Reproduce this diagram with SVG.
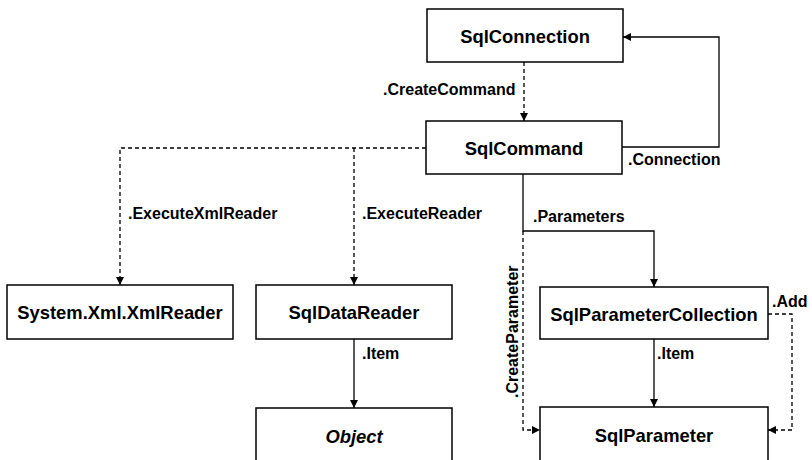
<svg xmlns="http://www.w3.org/2000/svg" width="812" height="460" viewBox="0 0 812 460">
  <style>
    .box { fill: #ffffff; stroke: #000000; stroke-width: 1.5; }
    .name { font-family: "Liberation Sans", Arial, sans-serif; font-weight: bold; font-size: 18.4px; text-anchor: middle; fill: #000000; }
    .lbl { font-family: "Liberation Sans", Arial, sans-serif; font-weight: bold; font-size: 16px; fill: #000000; }
    .solid { fill: none; stroke: #000000; stroke-width: 1.3; }
    .dash { fill: none; stroke: #000000; stroke-width: 1.3; stroke-dasharray: 4 3; }
  </style>
  <defs>
    <marker id="arrow" viewBox="0 0 10 10" refX="10" refY="5" markerWidth="8" markerHeight="8" markerUnits="userSpaceOnUse" orient="auto">
      <path d="M0,0 L10,5 L0,10 Z" fill="#000000"/>
    </marker>
  </defs>
  <rect width="812" height="460" fill="#ffffff"/>

  <g id="connectors">
    <!-- SqlConnection.CreateCommand -->
    <path class="dash" d="M524,62 L524,121" marker-end="url(#arrow)"/>
    <!-- SqlCommand.Connection -->
    <path class="solid" d="M622,147 L719,147 L719,37 L623,37" marker-end="url(#arrow)"/>
    <!-- ExecuteXmlReader / ExecuteReader -->
    <path class="dash" d="M426,148 L120,148 L120,285" marker-end="url(#arrow)"/>
    <path class="dash" d="M354,148 L354,285" marker-end="url(#arrow)"/>
    <!-- SqlDataReader.Item -->
    <path class="solid" d="M354,339 L354,408" marker-end="url(#arrow)"/>
    <!-- SqlCommand.Parameters -->
    <path class="solid" d="M523,174 L523,231 L654,231 L654,287" marker-end="url(#arrow)"/>
    <!-- SqlCommand.CreateParameter -->
    <path class="dash" d="M523,231 L523,430 L540,430" marker-end="url(#arrow)"/>
    <!-- SqlParameterCollection.Item -->
    <path class="solid" d="M654,339 L654,407" marker-end="url(#arrow)"/>
    <!-- SqlParameterCollection.Add -->
    <path class="dash" d="M768,314 L792,314 L792,430 L768,430" marker-end="url(#arrow)"/>

    <text class="lbl" x="383" y="95">.CreateCommand</text>
    <text class="lbl" x="628" y="165">.Connection</text>
    <text class="lbl" x="128" y="219">.ExecuteXmlReader</text>
    <text class="lbl" x="362" y="219">.ExecuteReader</text>
    <text class="lbl" x="533" y="222">.Parameters</text>
    <text class="lbl" x="362" y="359">.Item</text>
    <text class="lbl" x="657" y="359">.Item</text>
    <text class="lbl" x="772" y="307">.Add</text>
    <text class="lbl" transform="translate(518,398) rotate(-90)">.CreateParameter</text>
  </g>

  <g id="SqlConnection">
    <rect class="box" x="427" y="9" width="196" height="53"/>
    <text class="name" x="525" y="43">SqlConnection</text>
  </g>
  <g id="SqlCommand">
    <rect class="box" x="426" y="121" width="196" height="53"/>
    <text class="name" x="524" y="155">SqlCommand</text>
  </g>
  <g id="XmlReader">
    <rect class="box" x="7" y="285" width="226" height="54"/>
    <text class="name" x="120" y="319">System.Xml.XmlReader</text>
  </g>
  <g id="SqlDataReader">
    <rect class="box" x="256" y="285" width="196" height="54"/>
    <text class="name" x="354" y="319">SqlDataReader</text>
  </g>
  <g id="Object">
    <rect class="box" x="256" y="408" width="196" height="60"/>
    <text class="name" x="354" y="443" font-style="italic">Object</text>
  </g>
  <g id="SqlParameterCollection">
    <rect class="box" x="540" y="287" width="228" height="52"/>
    <text class="name" x="654" y="321">SqlParameterCollection</text>
  </g>
  <g id="SqlParameter">
    <rect class="box" x="540" y="407" width="228" height="60"/>
    <text class="name" x="654" y="442">SqlParameter</text>
  </g>
</svg>
